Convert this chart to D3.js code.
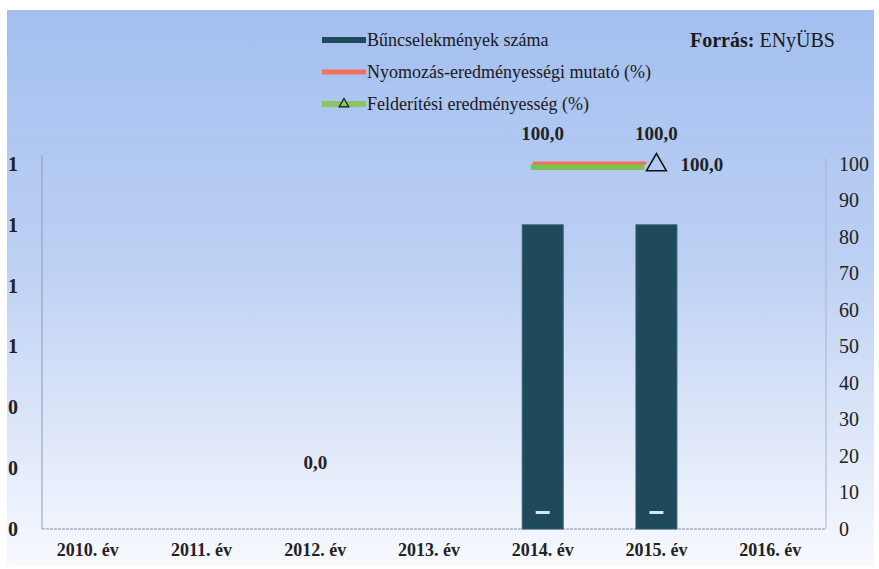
<!DOCTYPE html>
<html lang="hu">
<head>
<meta charset="UTF-8">
<title>Bűncselekmények száma</title>
<script src="https://d3js.org/d3.v7.min.js"></script>
<style>
  body { margin: 0; background: #fff; }
  svg { display: block; font-family: "Liberation Serif", "DejaVu Serif", serif; }
</style>
</head>
<body>
<div id="chart"></div>
<script>
// data
const years = ['2010. év', '2011. év', '2012. év', '2013. év', '2014. év', '2015. év', '2016. év'];
const crimeCount = [null, null, null, null, 1, 1, null];
const investigationRate = [null, null, null, null, 100, 100, null];   // Nyomozás-eredményességi mutató (%)
const detectionRate = [null, null, null, null, 100, 100, null];       // Felderítési eredményesség (%)
const leftTicks = [0, 0.2, 0.4, 0.6, 0.8, 1.0, 1.2];
const leftTickLabels = ['0', '0', '0', '1', '1', '1', '1'];
const rightTicks = [0, 10, 20, 30, 40, 50, 60, 70, 80, 90, 100];

const W = 879, H = 569;
const x0 = 31, x1 = 827;          // band range
const yTop = 164, yBase = 529;
const serif = '"Liberation Serif", "DejaVu Serif", serif';

const svg = d3.select('#chart').append('svg')
  .attr('width', W).attr('height', H);

// background gradient
const grad = svg.append('defs').append('linearGradient')
  .attr('id', 'bg').attr('x1', 0).attr('y1', 0).attr('x2', 0).attr('y2', 1);
grad.append('stop').attr('offset', '0%').attr('stop-color', '#a3bff0');
grad.append('stop').attr('offset', '45%').attr('stop-color', '#bcd0f3');
grad.append('stop').attr('offset', '80%').attr('stop-color', '#e2eafa');
grad.append('stop').attr('offset', '100%').attr('stop-color', '#f7f9fe');
svg.append('rect').attr('x', 7).attr('y', 10).attr('width', 867).attr('height', 556)
  .attr('fill', 'url(#bg)');

// scales
const xScale = d3.scaleBand().domain(years).range([x0, x1])
  .paddingInner(0.64).paddingOuter(0.32);
const xc = d => xScale(d) + xScale.bandwidth() / 2;
const yLeft = d3.scaleLinear().domain([0, 1.2]).range([yBase, yTop]);
const yRight = d3.scaleLinear().domain([0, 100]).range([yBase, yTop]);

// left axis
const leftAxis = svg.append('g')
  .attr('transform', 'translate(42,0)')
  .call(d3.axisLeft(yLeft).tickValues(leftTicks).tickSize(0).tickPadding(24)
    .tickFormat((d, i) => leftTickLabels[i]));
leftAxis.select('.domain').attr('stroke', '#8c9bb8').attr('d', `M0,155V${yBase}`);
leftAxis.selectAll('text').attr('font-size', 20).attr('font-weight', 'bold')
  .attr('fill', '#222').attr('font-family', serif);

// right axis
const rightAxis = svg.append('g')
  .attr('transform', 'translate(826,0)')
  .call(d3.axisRight(yRight).tickValues(rightTicks).tickSize(0).tickPadding(13));
rightAxis.select('.domain').attr('stroke', '#a7b4cc').attr('d', `M0,158V${yBase}`);
rightAxis.selectAll('text').attr('font-size', 20)
  .attr('fill', '#222').attr('font-family', serif);

// x axis
const xAxis = svg.append('g')
  .attr('transform', `translate(0,${yBase})`)
  .call(d3.axisBottom(xScale).tickSize(0).tickPadding(14));
xAxis.select('.domain').attr('stroke', '#8a8f9e').attr('stroke-dasharray', '3,1')
  .attr('d', `M42,0H826`);
xAxis.selectAll('text').attr('font-size', 18).attr('font-weight', 'bold')
  .attr('fill', '#222').attr('font-family', serif);

// bars
const barData = years.map((y, i) => ({ year: y, v: crimeCount[i] })).filter(d => d.v != null);
svg.selectAll('.bar').data(barData).join('rect')
  .attr('class', 'bar')
  .attr('x', d => xScale(d.year))
  .attr('y', d => yLeft(d.v))
  .attr('width', xScale.bandwidth())
  .attr('height', d => yBase - yLeft(d.v))
  .attr('fill', '#1e4a5b')
  .attr('stroke', '#2f5f72').attr('stroke-width', 1);
svg.selectAll('.bar-mark').data(barData).join('rect')
  .attr('x', d => xc(d.year) - 7)
  .attr('y', yBase - 18)
  .attr('width', 14).attr('height', 3)
  .attr('fill', '#d6e6f2');

// lines
const lineData = (arr) => years.map((y, i) => ({ year: y, v: arr[i] }));
const line = d3.line().defined(d => d.v != null).x(d => xc(d.year)).y(d => yRight(d.v));
svg.append('path').datum(lineData(detectionRate))
  .attr('d', line).attr('fill', 'none')
  .attr('stroke', '#7cc24f').attr('stroke-width', 6)
  .attr('transform', 'translate(-12,3)');
svg.append('path').datum(lineData(investigationRate))
  .attr('d', line).attr('fill', 'none')
  .attr('stroke', '#f2705c').attr('stroke-width', 3)
  .attr('transform', 'translate(-10,-1)');

// triangle marker at last detection point
const detPts = lineData(detectionRate).filter(d => d.v != null);
const last = detPts[detPts.length - 1];
svg.append('path')
  .attr('d', d3.symbol().type(d3.symbolTriangle).size(170)())
  .attr('transform', `translate(${xc(last.year)},${yRight(last.v) + 1})`)
  .attr('fill', 'none').attr('stroke', '#111').attr('stroke-width', 1.6);

// data labels
const labelFont = g => g.attr('font-size', 19).attr('font-weight', 'bold').attr('fill', '#222');
lineData(investigationRate).filter(d => d.v != null).forEach(d => {
  svg.append('text').attr('x', xc(d.year)).attr('y', yRight(d.v) - 24)
    .attr('text-anchor', 'middle').text(d3.format('.1f')(d.v).replace('.', ','))
    .call(labelFont);
});
svg.append('text').attr('x', xc(last.year) + 24).attr('y', yRight(last.v) + 7)
  .text(d3.format('.1f')(last.v).replace('.', ',')).call(labelFont);
svg.append('text').attr('x', xc('2012. év')).attr('y', yRight(18) + 6)
  .attr('text-anchor', 'middle').text('0,0').call(labelFont);

// legend
const legend = svg.append('g').attr('transform', 'translate(322,0)');
const legendItems = [
  { label: 'Bűncselekmények száma', color: '#1e4a5b', h: 6, y: 40 },
  { label: 'Nyomozás-eredményességi mutató (%)', color: '#f2705c', h: 5, y: 72 },
  { label: 'Felderítési eredményesség (%)', color: '#8cc461', h: 6, y: 104 }
];
legendItems.forEach(d => {
  legend.append('rect').attr('x', 0).attr('y', d.y - d.h / 2)
    .attr('width', 44).attr('height', d.h).attr('fill', d.color);
  legend.append('text').attr('x', 45).attr('y', d.y + 6)
    .attr('font-size', 18).attr('fill', '#1a1a1a').text(d.label);
});
legend.append('path')
  .attr('d', d3.symbol().type(d3.symbolTriangle).size(40)())
  .attr('transform', 'translate(22,104)')
  .attr('fill', 'none').attr('stroke', '#111').attr('stroke-width', 1.2);

// source
const src = svg.append('text').attr('x', 690).attr('y', 47).attr('font-size', 20).attr('fill', '#1a1a1a');
src.append('tspan').attr('font-weight', 'bold').text('Forrás: ');
src.append('tspan').text('ENyÜBS');
</script>
</body>
</html>
